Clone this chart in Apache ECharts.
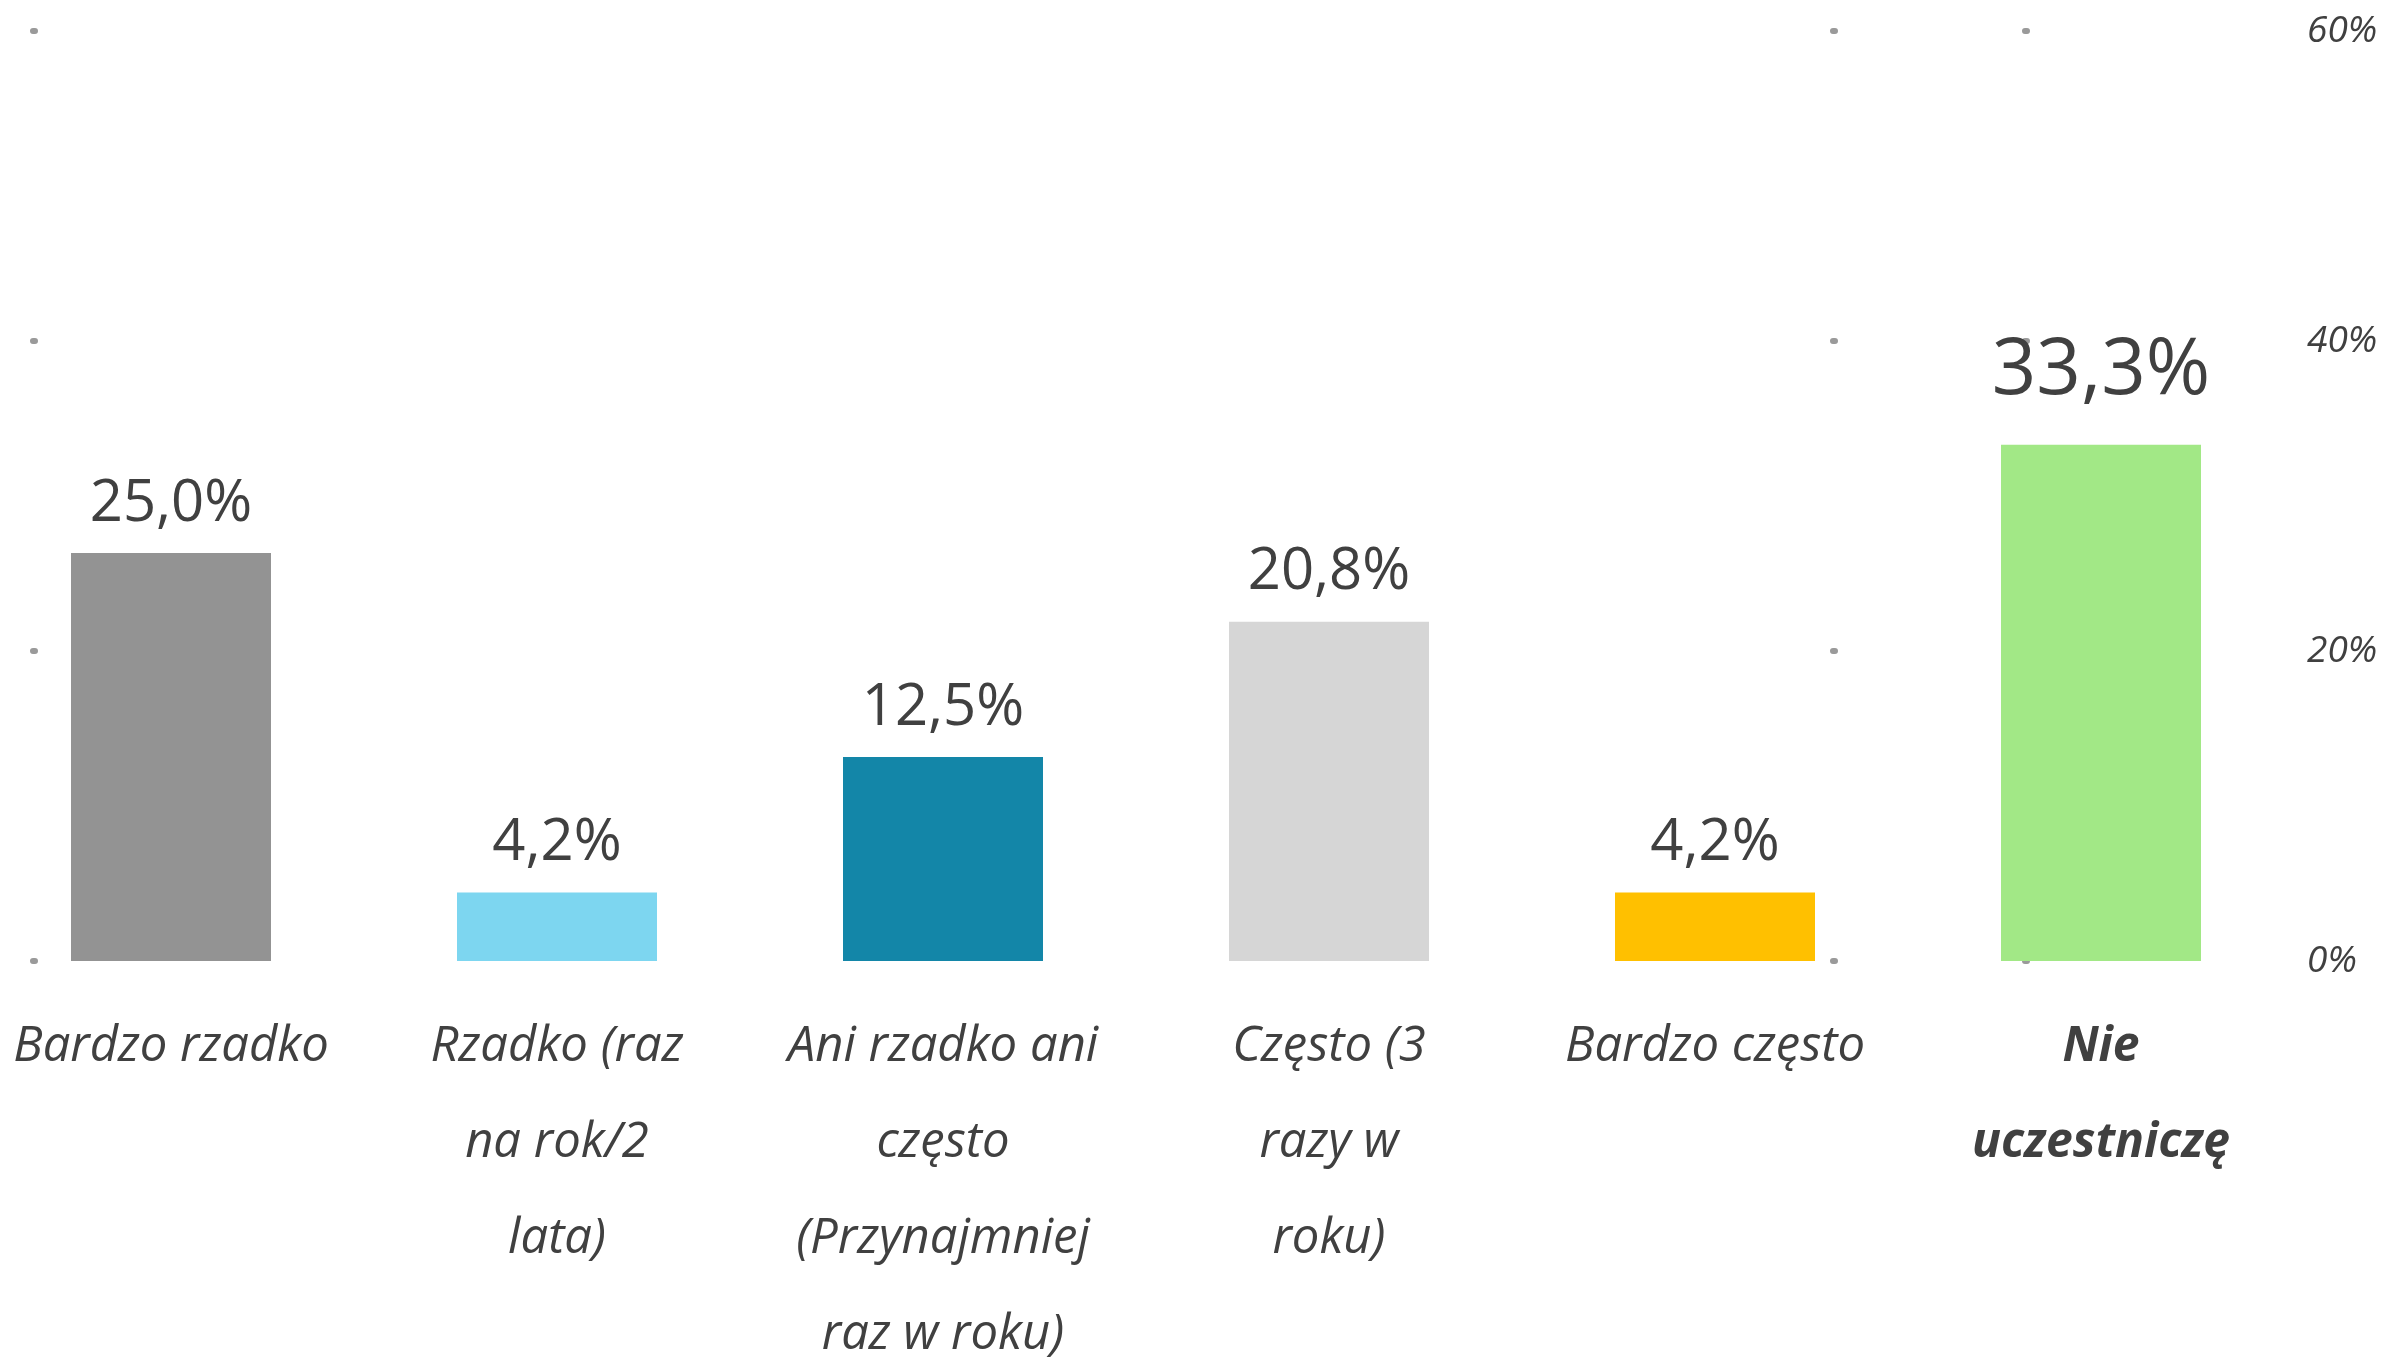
<!DOCTYPE html>
<html lang="pl">
<head>
<meta charset="utf-8">
<title>Częstotliwość uczestnictwa</title>
<script src="https://cdn.jsdelivr.net/npm/echarts@6/dist/echarts.min.js"></script>
<style>
  html, body { margin: 0; padding: 0; background: #ffffff; }
  #chart { width: 2394px; height: 1358px; }
</style>
</head>
<body>
<div id="chart"></div>
<script>
// Answer categories (line breaks as printed under the bars)
const categories = [
  'Bardzo rzadko',
  'Rzadko (raz\nna rok/2\nlata)',
  'Ani rzadko ani\nczęsto\n(Przynajmniej\nraz w roku)',
  'Często (3\nrazy w\nroku)',
  'Bardzo często',
  'Nie\nuczestniczę'
];
// Share of respondents (%) for the frequency answers
const frequencyShares = [25.0, 4.2, 12.5, 20.8, 4.2, '-'];
// Share of respondents (%) who do not take part
const nonParticipantShares = ['-', '-', '-', '-', '-', 33.3];
// Bar colours, one per category
const barColors = ['#939393', '#7dd6f0', '#1386a8', '#d6d6d6', '#ffc000', '#a2e886'];
// Right-hand scale
const rightAxisMin = 0;
const rightAxisMax = 60;
const rightAxisStep = 20;

const textColor = '#404040';
const pct = v => Number(v).toFixed(1).replace('.', ',') + '%';

const chart = echarts.init(document.getElementById('chart'), null, { renderer: 'canvas' });

chart.setOption({
  backgroundColor: '#ffffff',
  animation: false,
  grid: {
    left: -22,
    width: 2316,
    top: 31,
    bottom: 397,
    containLabel: false,
    outerBoundsMode: 'none'
  },
  xAxis: {
    type: 'category',
    data: categories,
    axisLine: { show: false },
    axisTick: { show: false },
    splitLine: { show: false },
    axisLabel: {
      interval: 0,
      margin: 38,
      color: textColor,
      fontFamily: 'Open Sans',
      fontStyle: 'italic',
      fontSize: 49,
      lineHeight: 96,
      formatter: (value, idx) => idx === 5
        ? value.split('\n').map(s => '{b|' + s + '}').join('\n')
        : value,
      rich: {
        b: {
          fontFamily: 'Open Sans',
          fontStyle: 'italic',
          fontWeight: 'bold',
          fontSize: 48,
          lineHeight: 96,
          color: textColor
        }
      }
    }
  },
  yAxis: [
    {
      // hidden scale of the frequency bars; its grid lines show only as end dots
      type: 'value',
      min: 0,
      max: 57,
      interval: 19,
      position: 'left',
      axisLine: { show: false },
      axisTick: { show: false },
      axisLabel: { show: false },
      splitLine: {
        show: true,
        lineStyle: {
          color: '#9a9a9a',
          width: 6,
          cap: 'round',
          type: [2, 1798, 2, 190, 2, 100000],
          dashOffset: -55
        }
      }
    },
    {
      type: 'value',
      min: rightAxisMin,
      max: rightAxisMax,
      interval: rightAxisStep,
      position: 'right',
      axisLine: { show: false },
      axisTick: { show: false },
      splitLine: { show: false },
      axisLabel: {
        margin: 13,
        color: textColor,
        fontFamily: 'Open Sans',
        fontStyle: 'italic',
        fontSize: 37,
        formatter: '{value}%'
      }
    }
  ],
  series: [
    {
      type: 'bar',
      yAxisIndex: 0,
      data: frequencyShares,
      barWidth: 200,
      barGap: '-100%',
      clip: false,
      itemStyle: { color: p => barColors[p.dataIndex] },
      label: {
        show: true,
        position: 'top',
        distance: 20,
        color: textColor,
        fontFamily: 'Open Sans',
        fontSize: 58,
        formatter: p => pct(p.value)
      }
    },
    {
      type: 'bar',
      yAxisIndex: 1,
      data: nonParticipantShares,
      barWidth: 200,
      barGap: '-100%',
      clip: false,
      itemStyle: { color: p => barColors[p.dataIndex] },
      label: {
        show: true,
        position: 'top',
        distance: 34,
        color: textColor,
        fontFamily: 'Open Sans',
        fontSize: 78,
        formatter: p => pct(p.value)
      }
    }
  ]
});
</script>
</body>
</html>
